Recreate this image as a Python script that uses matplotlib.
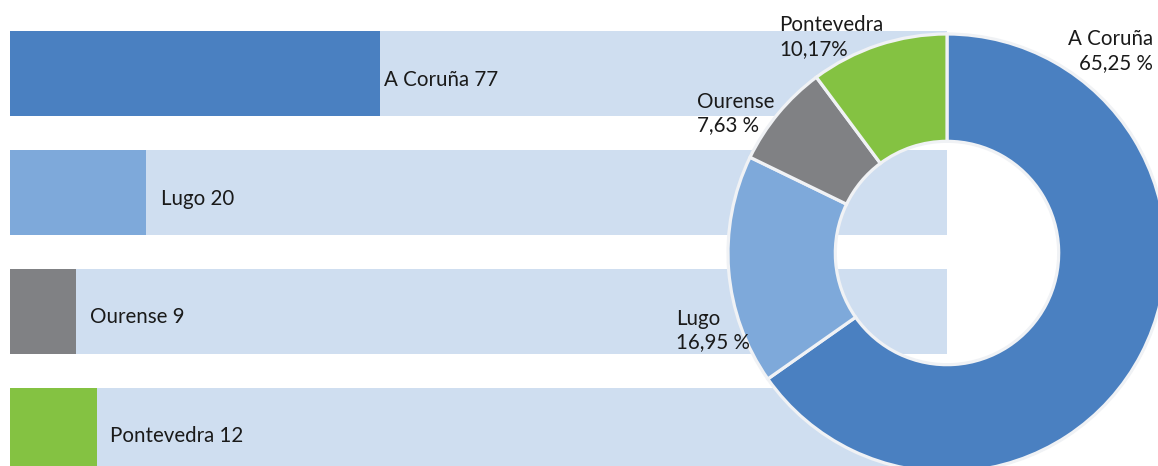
import matplotlib
matplotlib.use('Agg')
import matplotlib.pyplot as plt

provinces = ['A Coruña', 'Lugo', 'Ourense', 'Pontevedra']
counts = [77, 20, 9, 12]
shares = [65.25, 16.95, 7.63, 10.17]
share_labels = ['65,25 %', '16,95 %', '7,63 %', '10,17%']
# bar lengths as drawn in the original, in % of the light track
bar_lengths = [39.5, 14.5, 7.0, 9.3]
track = [100, 100, 100, 100]

colors = ['#4a80c1', '#7ea9da', '#808184', '#84c242']
track_color = '#cfdef0'
text_color = '#1a1a1a'

plt.rcParams['font.family'] = ['Lato', 'DejaVu Sans']
FS = 14.8

W, H = 1158, 466
fig = plt.figure(figsize=(W / 100, H / 100), dpi=100)
fig.patch.set_facecolor('white')

# bars
ax = fig.add_axes([10 / W, 0, 937 / W, 1])
ypos = list(range(len(provinces)))
ax.barh(ypos, track, height=0.716, color=track_color, zorder=1)
ax.barh(ypos, bar_lengths, height=0.716, color=colors, zorder=2)
ax.set_xlim(0, 100)
ax.set_ylim(3.302, -0.623)
ax.axis('off')

pads = [4, 15, 14, 13]
for i, (name, n) in enumerate(zip(provinces, counts)):
    ax.annotate(f'{name} {n}', xy=(bar_lengths[i], i), xytext=(pads[i], -6),
                textcoords='offset pixels', ha='left', va='center',
                fontsize=FS, color=text_color, zorder=3)

# donut
R = 219
cx, cy = 947, 253
pax = fig.add_axes([(cx - R) / W, (H - cy - R) / H, 2 * R / W, 2 * R / H])
wedges, _ = pax.pie(shares, colors=colors, startangle=90, counterclock=False,
                    radius=1, wedgeprops=dict(width=0.49, edgecolor='#f0f2f5',
                                              linewidth=2.3))
for w in wedges:
    w.set_clip_on(False)
pax.set_xlim(-1, 1)
pax.set_ylim(-1, 1)
pax.set_aspect('equal')
pax.axis('off')

label_pos = [(0.94, 0.922, 'right'), (-1.237, -0.356, 'left'),
             (-1.142, 0.637, 'left'), (-0.767, 0.986, 'left')]
for (x, y, ha), name, lab in zip(label_pos, provinces, share_labels):
    pax.text(x, y, f'{name}\n{lab}', ha=ha, va='center', multialignment=ha,
             fontsize=FS, color=text_color, linespacing=1.2, clip_on=False)

fig.savefig('out.png', dpi=100)
